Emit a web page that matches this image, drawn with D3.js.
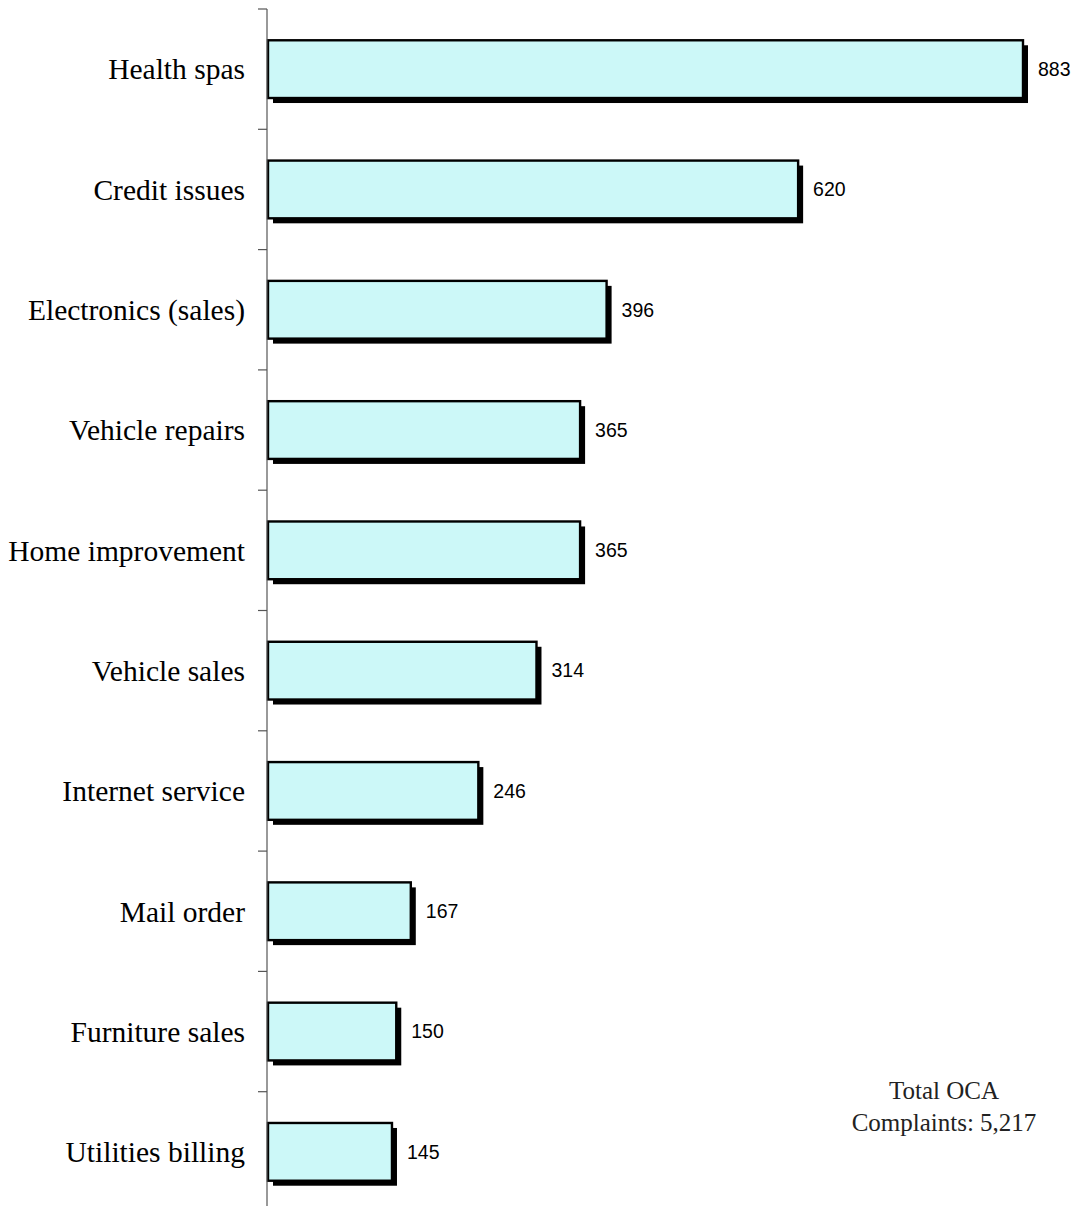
<!DOCTYPE html>
<html><head><meta charset="utf-8">
<script src="https://cdn.jsdelivr.net/npm/d3@7"></script>
<style>body{margin:0;background:#fff}svg{display:block}</style>
</head><body>
<script>
const categories = ["Health spas","Credit issues","Electronics (sales)","Vehicle repairs","Home improvement","Vehicle sales","Internet service","Mail order","Furniture sales","Utilities billing"];
const values = [883,620,396,365,365,314,246,167,150,145];
const noteLines = ["Total OCA","Complaints: 5,217"];

const W = 1081, H = 1206;
const svg = d3.select("body").append("svg").attr("width",W).attr("height",H);

const x = d3.scaleLinear().domain([0,883]).range([268,1023]);
const y = d3.scaleBand().domain(categories).range([9,1212]).paddingInner(0.52).paddingOuter(0.26);
const step = y.step();

// shadows
svg.append("g").selectAll("rect").data(values).join("rect")
  .attr("x",(d)=>x(0)+5).attr("y",(d,i)=>y(categories[i])+5)
  .attr("width",d=>x(d)-x(0)).attr("height",y.bandwidth())
  .attr("fill","#000");
// bars
svg.append("g").selectAll("rect").data(values).join("rect")
  .attr("x",x(0)).attr("y",(d,i)=>y(categories[i]))
  .attr("width",d=>x(d)-x(0)).attr("height",y.bandwidth())
  .attr("fill","#ccf8f8").attr("stroke","#000").attr("stroke-width",2.4);

// axis
const ax = svg.append("g");
ax.append("line").attr("x1",267).attr("x2",267).attr("y1",9).attr("y2",H).attr("stroke","#555").attr("stroke-width",1.2);
const tickYs = d3.range(categories.length).map(i=>9+i*step);
ax.selectAll("line.tick").data(tickYs).join("line").attr("class","tick")
  .attr("x1",258).attr("x2",267).attr("y1",d=>d).attr("y2",d=>d).attr("stroke","#555").attr("stroke-width",1.2);

// category labels
svg.append("g").selectAll("text").data(categories).join("text")
  .attr("x",245).attr("y",d=>y(d)+y.bandwidth()/2).attr("dy","0.35em")
  .attr("text-anchor","end").attr("font-family","'Liberation Serif','Times New Roman',serif")
  .attr("font-size",29.5).attr("fill","#000").text(d=>d);

// value labels
svg.append("g").selectAll("text").data(values).join("text")
  .attr("x",d=>x(d)+15).attr("y",(d,i)=>y(categories[i])+y.bandwidth()/2).attr("dy","0.35em")
  .attr("font-family","'Liberation Sans',Arial,sans-serif").attr("font-size",19.5).attr("fill","#000")
  .text(d=>d);

// note
svg.append("g").selectAll("text").data(noteLines).join("text")
  .attr("x",944).attr("y",(d,i)=>1099+i*32).attr("text-anchor","middle")
  .attr("font-family","'Liberation Serif','Times New Roman',serif").attr("font-size",25).attr("fill","#222")
  .text(d=>d);
</script>
</body></html>
